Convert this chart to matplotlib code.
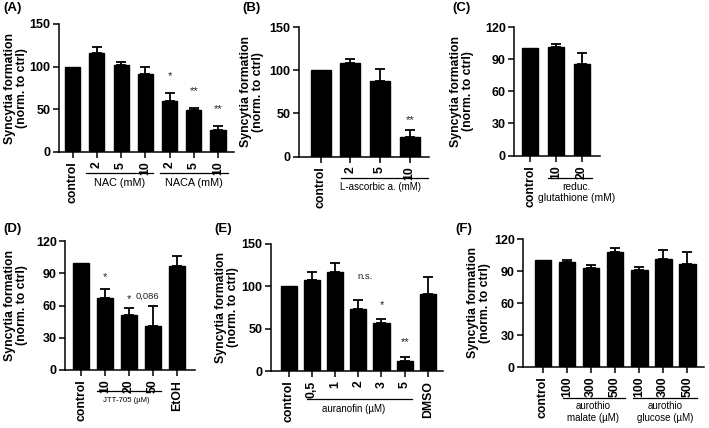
import matplotlib
matplotlib.use("Agg")
import matplotlib.pyplot as plt
from matplotlib.transforms import blended_transform_factory

plt.rcParams['font.family'] = ['Liberation Sans', 'DejaVu Sans']

W, H = 709, 428

# ---------------- data ----------------
A_labels = ['control', '2', '5', '10', '2', '5', '10']
A_means = [100, 116, 102, 91, 60, 49, 25.5]
A_err = [0, 7, 4, 8.5, 9.5, 3, 5.5]

B_labels = ['control', '2', '5', '10']
B_means = [100, 108, 87, 23]
B_err = [0, 4.5, 14, 7.5]

C_labels = ['control', '10', '20']
C_means = [100, 101, 85]
C_err = [0, 3.5, 11]

D_labels = ['control', '10', '20', '50', 'EtOH']
D_means = [100, 67, 51.5, 40.5, 96.5]
D_err = [0, 8, 6, 19, 9.5]

E_labels = ['control', '0,5', '1', '2', '3', '5', 'DMSO']
E_means = [100, 107, 117, 73, 56.5, 12, 91]
E_err = [0, 10.5, 10, 10.5, 4.5, 4, 19.5]

F_labels = ['control', '100', '300', '500', '100', '300', '500']
F_means = [100, 98, 92.5, 107.5, 91, 101, 97]
F_err = [0, 2.5, 3, 4.5, 2.5, 8.5, 10.5]

fig = plt.figure(figsize=(W / 100, H / 100), dpi=100)


def make_ax(left, right, top, bottom):
    return fig.add_axes([left / W, 1 - bottom / H, (right - left) / W, (bottom - top) / H])


def panel(box, labels, means, errs, ylim, yticks, xlim, width, letter, letter_xy,
          ylabel_x, groups, line_px, annots):
    left, right, top, bottom = box
    ax = make_ax(left, right, top, bottom)
    x = list(range(len(labels)))
    ax.bar(x, means, width=width, color='black', edgecolor='black', zorder=2)
    for xi, m, e in zip(x, means, errs):
        if e > 0:
            ax.errorbar(xi, m, yerr=[[0], [e]], fmt='none', ecolor='black',
                        elinewidth=1.3, capsize=3.8, capthick=1.3, zorder=3)
    ax.set_xlim(*xlim)
    ax.set_ylim(*ylim)
    ax.set_yticks(yticks)
    ax.set_yticklabels([str(t) for t in yticks], fontsize=9, fontweight='bold')
    ax.set_xticks(x)
    ax.set_xticklabels(labels, rotation=90, fontsize=8.8, fontweight='bold')
    for s in ['top', 'right']:
        ax.spines[s].set_visible(False)
    for s in ['left', 'bottom']:
        ax.spines[s].set_linewidth(1.1)
    ax.tick_params(axis='both', direction='out', length=4, width=1.1, pad=2)
    ax.tick_params(axis='x', pad=3)
    ax.set_ylabel('Syncytia formation\n(norm. to ctrl)', fontsize=8.8,
                  fontweight='bold', linespacing=1.05)
    ax.yaxis.set_label_coords((ylabel_x - left) / (right - left), 0.5)
    hpx = bottom - top
    tr = blended_transform_factory(ax.transData, ax.transAxes)
    for (text, x0, x1, tx, fs, lab_px) in groups:
        yl = -line_px / hpx
        ax.plot([x0, x1], [yl, yl], color='black', lw=0.9, transform=tr, clip_on=False)
        ax.text(tx, -(line_px + lab_px) / hpx, text, transform=tr, ha='center',
                va='center', fontsize=fs, linespacing=1.15)
    for (xa, txt, ya, fs) in annots:
        ax.text(xa, ya, txt, ha='center', va='center', fontsize=fs, color='#222222')
    fig.text(letter_xy[0] / W, 1 - letter_xy[1] / H, letter, fontsize=9.5,
             fontweight='bold', ha='left', va='center')
    return ax


# Panel A
panel((59, 234, 24, 152), A_labels, A_means, A_err, (0, 150), [0, 50, 100, 150],
      (-0.56, 6.66), 0.62, '(A)', (3, 8), 28,
      [('NAC (mM)', 0.55, 3.3, 1.95, 7.8, 10), ('NACA (mM)', 3.6, 6.4, 5.0, 7.8, 10)], 21,
      [(4, '*', 89, 8), (5, '**', 71, 8), (6, '**', 50, 8)])

# Panel B
panel((299, 429, 27, 156.5), B_labels, B_means, B_err, (0, 150), [0, 50, 100, 150],
      (-0.73, 3.65), 0.67, '(B)', (242, 8), 264,
      [('L-ascorbic a. (mM)', 0.7, 3.6, 2.0, 7, 10)], 21,
      [(3, '**', 42, 8)])

# Panel C
panel((514, 600, 27, 155.5), C_labels, C_means, C_err, (0, 120), [0, 30, 60, 90, 120],
      (-0.62, 2.69), 0.64, '(C)', (452, 8), 474,
      [('reduc.\nglutathione (mM)', 0.7, 2.38, 1.78, 7.4, 15)], 22,
      [])

# Panel D
panel((65, 195, 241, 370), D_labels, D_means, D_err, (0, 120), [0, 30, 60, 90, 120],
      (-0.67, 4.75), 0.67, '(D)', (3, 229), 28,
      [('JTT-705 (µM)', 0.65, 3.35, 1.9, 5.6, 9)], 21,
      [(1, '*', 86, 8), (2, '*', 66, 8), (2.75, '0,086', 69, 6.8)])

# Panel E
panel((271, 443, 244, 371), E_labels, E_means, E_err, (0, 150), [0, 50, 100, 150],
      (-0.76, 6.65), 0.7, '(E)', (214, 229), 239,
      [('auranofin (µM)', 0.78, 5.3, 2.8, 7, 10)], 28,
      [(3.3, 'n.s.', 112, 6.8), (4, '*', 78, 8), (5, '**', 34, 8)])

# Panel F
panel((523, 704, 239, 367), F_labels, F_means, F_err, (0, 120), [0, 30, 60, 90, 120],
      (-0.83, 6.7), 0.7, '(F)', (455, 229), 491,
      [('aurothio\nmalate (µM)', 0.85, 3.4, 2.1, 7, 14),
       ('aurothio\nglucose (µM)', 3.76, 6.4, 5.1, 7, 14)], 31,
      [])

fig.savefig('out.png', dpi=100, facecolor='white')
